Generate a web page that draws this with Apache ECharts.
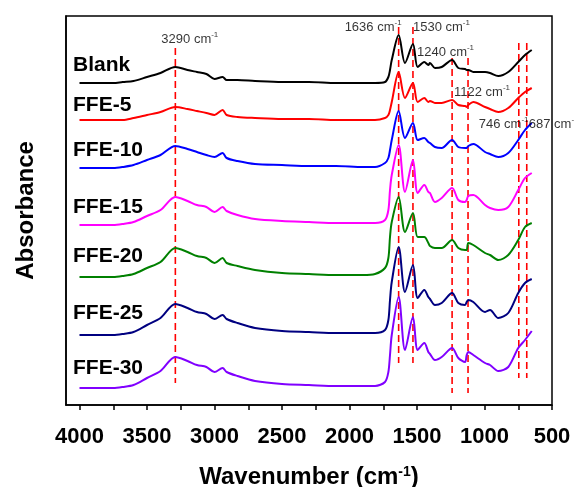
<!DOCTYPE html>
<html>
<head>
<meta charset="utf-8">
<script src="https://cdn.jsdelivr.net/npm/echarts@6/dist/echarts.min.js"></script>
<style>
  html, body { margin: 0; padding: 0; background: #fff; }
  #chart { width: 574px; height: 487px; }
</style>
</head>
<body>
<div id="chart"></div>
<script>
// wavenumber grid (cm-1) shared by all spectra
const wavenumber = [
  4000, 3750, 3680, 3600, 3500, 3400, 3290, 3200, 3130, 3060,
  3000, 2940, 2910, 2830, 2700, 2500, 2300, 2100, 1900, 1811,
  1737, 1712, 1700, 1687, 1636, 1589, 1530, 1495, 1446, 1416,
  1404, 1367, 1317, 1240, 1194, 1144, 1132, 1120, 1083, 996,
  959, 898, 824, 750, 700, 650,
];

// absorbance, already offset for stacking
const blank = [
  3.22, 3.22, 3.23, 3.24, 3.28, 3.32, 3.38, 3.35, 3.33, 3.31,
  3.26, 3.28, 3.25, 3.25, 3.24, 3.23, 3.23, 3.22, 3.22, 3.22,
  3.23, 3.28, 3.35, 3.45, 3.70, 3.42, 3.61, 3.38, 3.43, 3.40,
  3.42, 3.37, 3.38, 3.45, 3.37, 3.36, 3.35, 3.35, 3.33, 3.33,
  3.32, 3.29, 3.33, 3.43, 3.50, 3.55,
];
const ffe5 = [
  2.85, 2.85, 2.85, 2.87, 2.90, 2.93, 2.98, 2.96, 2.94, 2.92,
  2.90, 2.95, 2.90, 2.88, 2.87, 2.86, 2.86, 2.85, 2.85, 2.85,
  2.87, 2.90, 2.95, 3.03, 3.33, 3.07, 3.22, 3.03, 3.07, 3.03,
  3.04, 3.02, 3.02, 3.05, 3.00, 2.99, 2.98, 3.00, 3.03, 2.98,
  2.96, 2.93, 2.97, 3.07, 3.13, 3.17,
];
const ffe10 = [
  2.37, 2.37, 2.38, 2.40, 2.45, 2.50, 2.59, 2.56, 2.53, 2.50,
  2.48, 2.52, 2.47, 2.44, 2.41, 2.40, 2.39, 2.39, 2.38, 2.38,
  2.42, 2.47, 2.55, 2.65, 2.94, 2.67, 2.82, 2.65, 2.67, 2.63,
  2.62, 2.58, 2.57, 2.65, 2.58, 2.57, 2.57, 2.59, 2.61, 2.53,
  2.51, 2.48, 2.52, 2.65, 2.75, 2.82,
];
const ffe15 = [
  1.80, 1.80, 1.81, 1.83, 1.89, 1.95, 2.08, 2.04, 2.00, 1.98,
  1.93, 1.98, 1.94, 1.90, 1.86, 1.84, 1.83, 1.82, 1.82, 1.82,
  1.85, 1.95, 2.15, 2.30, 2.60, 2.13, 2.45, 2.12, 2.20, 2.13,
  2.12, 2.03, 2.07, 2.17, 2.05, 2.03, 2.05, 2.09, 2.10, 2.00,
  1.97, 1.95, 1.98, 2.15, 2.27, 2.32,
];
const ffe20 = [
  1.28, 1.28, 1.29, 1.31, 1.37, 1.43, 1.57, 1.53, 1.49, 1.47,
  1.42, 1.47, 1.42, 1.39, 1.35, 1.32, 1.31, 1.30, 1.30, 1.31,
  1.37, 1.47, 1.68, 1.83, 2.08, 1.73, 1.92, 1.68, 1.68, 1.62,
  1.59, 1.57, 1.57, 1.65, 1.57, 1.55, 1.55, 1.62, 1.60, 1.52,
  1.50, 1.45, 1.50, 1.65, 1.78, 1.82,
];
const ffe25 = [
  0.70, 0.70, 0.71, 0.73, 0.80, 0.87, 1.01, 0.97, 0.93, 0.91,
  0.86, 0.90, 0.86, 0.82, 0.77, 0.74, 0.73, 0.72, 0.72, 0.72,
  0.75, 0.85, 1.05, 1.23, 1.58, 1.13, 1.40, 1.07, 1.15, 1.08,
  1.06, 1.00, 1.02, 1.12, 1.02, 1.00, 1.03, 1.05, 1.03, 0.93,
  0.95, 0.87, 0.92, 1.12, 1.22, 1.26,
];
const ffe30 = [
  0.17, 0.17, 0.18, 0.20, 0.27, 0.34, 0.48, 0.44, 0.40, 0.38,
  0.33, 0.37, 0.33, 0.29, 0.24, 0.21, 0.20, 0.19, 0.19, 0.19,
  0.23, 0.33, 0.50, 0.70, 1.08, 0.55, 0.88, 0.55, 0.62, 0.53,
  0.51, 0.45, 0.48, 0.57, 0.47, 0.43, 0.50, 0.53, 0.50, 0.42,
  0.40, 0.34, 0.38, 0.57, 0.65, 0.74,
];

const sampleNames = ['Blank', 'FFE-5', 'FFE-10', 'FFE-15', 'FFE-20', 'FFE-25', 'FFE-30'];
const spectra = [blank, ffe5, ffe10, ffe15, ffe20, ffe25, ffe30];
const colors = ['#000000', '#ff0000', '#0000ff', '#ff00ff', '#008000', '#000080', '#8000ff'];

// marked peaks and the extent of each dashed guide line
const peakWn = [3290, 1636, 1530, 1240, 1122, 746, 687];
const peakLineTop = [3.57, 3.78, 3.78, 3.47, 3.47, 3.62, 3.62];
const peakLineBottom = [0.22, 0.42, 0.42, 0.12, 0.12, 0.27, 0.27];

// layout of the annotation text
const peakLabelY = [3.66, 3.78, 3.78, 3.53, 3.13, 2.81, 2.81];
const peakLabelDx = [-14, -54, 0, -35, -14, -40, 2];
const sampleLabelY = [65, 105, 150, 207, 256, 313, 368];

const font = 'Liberation Sans';
const chart = echarts.init(document.getElementById('chart'));

const spectrumSeries = spectra.map((ys, i) => ({
  name: sampleNames[i],
  type: 'line',
  data: wavenumber.map((w, k) => [w, ys[k]]),
  showSymbol: false,
  smooth: 0.3,
  lineStyle: { color: colors[i], width: 2 },
  z: 3,
  animation: false,
}));

const guideSeries = peakWn.map((w, i) => ({
  type: 'line',
  data: [[w, peakLineTop[i]], [w, peakLineBottom[i]]],
  showSymbol: false,
  lineStyle: { color: '#ff0000', width: 1.6, type: [7, 4] },
  z: 2,
  animation: false,
}));

const peakLabelSeries = {
  type: 'scatter',
  symbolSize: 0,
  z: 4,
  animation: false,
  data: peakWn.map((w, i) => ({
    value: [w, peakLabelY[i]],
    label: { position: [peakLabelDx[i], 0] },
  })),
  label: {
    show: true,
    align: 'left',
    verticalAlign: 'middle',
    formatter: (p) => `{a|${p.value[0]} cm}{s|-1}`,
    rich: {
      a: { fontFamily: font, fontSize: 13, color: '#000', lineHeight: 16 },
      s: { fontFamily: font, fontSize: 8, color: '#000', lineHeight: 16, verticalAlign: 'top' },
    },
  },
};

chart.setOption({
  backgroundColor: '#fff',
  grid: {
    left: 66,
    right: 22,
    top: 16,
    bottom: 82,
    containLabel: false,
    outerBoundsMode: 'none',
    show: true,
    borderColor: '#000',
    borderWidth: 1.5,
  },
  xAxis: {
    type: 'value',
    inverse: true,
    min: 500,
    max: 4100,
    interval: 250,
    name: 'Wavenumber (cm{s|-1})',
    nameLocation: 'middle',
    nameGap: 60,
    nameTextStyle: {
      fontFamily: font,
      fontSize: 24,
      fontWeight: 'bold',
      color: '#000',
      rich: {
        s: { fontFamily: font, fontSize: 14, fontWeight: 'bold', verticalAlign: 'top' },
      },
    },
    axisLine: { lineStyle: { color: '#000', width: 1.5 } },
    axisTick: { inside: false, length: 5, lineStyle: { color: '#000', width: 1.5 } },
    axisLabel: {
      fontFamily: font,
      fontSize: 22,
      fontWeight: 'bold',
      color: '#000',
      margin: 21,
      showMaxLabel: false,
      formatter: (v) => (v % 500 === 0 && v <= 4000 ? String(v) : ''),
    },
    splitLine: { show: false },
  },
  yAxis: {
    type: 'value',
    min: 0,
    max: 3.89,
    name: 'Absorbance',
    nameLocation: 'middle',
    nameGap: 28,
    nameTextStyle: { fontFamily: font, fontSize: 24, fontWeight: 'bold', color: '#000' },
    axisLine: { show: true, lineStyle: { color: '#000', width: 1.5 } },
    axisTick: { show: false },
    axisLabel: { show: false },
    splitLine: { show: false },
  },
  graphic: sampleNames.map((name, i) => ({
    type: 'text',
    x: 73,
    y: sampleLabelY[i],
    z: 10,
    style: {
      text: name,
      font: `bold 21px "${font}"`,
      fill: '#000',
      verticalAlign: 'middle',
    },
  })),
  series: [...guideSeries, ...spectrumSeries, peakLabelSeries],
});
</script>
</body>
</html>
